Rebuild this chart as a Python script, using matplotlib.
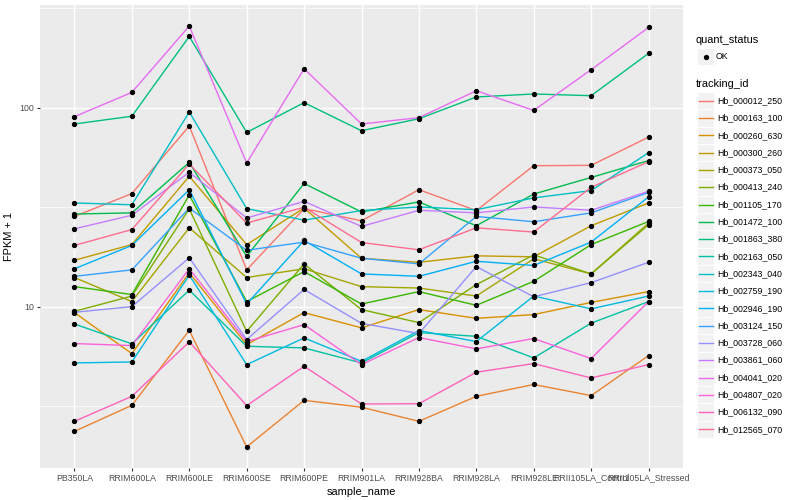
import numpy as np
import matplotlib
matplotlib.use("Agg")
import matplotlib.pyplot as plt
from matplotlib.patches import Rectangle
from matplotlib.lines import Line2D
from matplotlib.ticker import NullFormatter

plt.rcParams['font.family'] = ['Liberation Sans', 'DejaVu Sans']

# Data (FPKM + 1)

samples = ["PB350LA", "RRIM600LA", "RRIM600LE", "RRIM600SE", "RRIM600PE", "RRIM901LA",
           "RRIM928BA", "RRIM928LA", "RRIM928LE", "RRII105LA_Control", "RRII105LA_Stressed"]

tracking_ids = ["Hb_000012_250", "Hb_000163_100", "Hb_000260_630", "Hb_000300_260",
                "Hb_000373_050", "Hb_000413_240", "Hb_001105_170", "Hb_001472_100",
                "Hb_001863_380", "Hb_002163_050", "Hb_002343_040", "Hb_002759_190",
                "Hb_002946_190", "Hb_003124_150", "Hb_003728_060", "Hb_003861_060",
                "Hb_004041_020", "Hb_004807_020", "Hb_006132_090", "Hb_012565_070"]

# ggplot hue palette for 20 levels
colors = ["#F8766D", "#EA8331", "#D89000", "#C09B00", "#A3A500", "#7CAE00", "#39B600",
          "#00BB4E", "#00BF7D", "#00C1A3", "#00BFC4", "#00BAE0", "#00B0F6", "#35A2FF",
          "#9590FF", "#C77CFF", "#E76BF3", "#FA62DB", "#FF62BC", "#FF6C91"]

hb_000012_250 = [28.4, 37.0, 80.9, 15.3, 31.1, 27.0, 38.7, 30.4, 51.1, 51.3, 71.1]
hb_000163_100 = [2.36, 3.19, 7.60, 1.97, 3.38, 3.12, 2.65, 3.54, 4.06, 3.57, 5.67]
hb_000260_630 = [9.33, 5.80, 14.8, 6.44, 9.33, 7.82, 9.66, 8.73, 9.12, 10.5, 11.9]
hb_000300_260 = [17.1, 20.5, 45.2, 20.5, 31.3, 17.5, 16.7, 18.0, 17.8, 25.5, 33.2]
hb_000373_050 = [14.0, 10.6, 24.9, 14.0, 15.5, 12.6, 12.4, 11.3, 17.4, 14.6, 26.3]
hb_000413_240 = [9.47, 11.3, 31.0, 7.51, 16.4, 9.66, 8.31, 12.9, 18.2, 14.6, 25.8]
hb_001105_170 = [12.6, 11.5, 36.4, 10.6, 15.0, 10.3, 11.9, 10.15, 13.4, 20.5, 26.8]
hb_001472_100 = [29.2, 29.6, 53.1, 17.9, 41.6, 29.9, 33.6, 25.5, 36.8, 44.6, 54.2]
hb_001863_380 = [82.8, 90.6, 228.2, 75.1, 106.0, 76.6, 88.0, 113.2, 117.2, 114.9, 187.5]
hb_002163_050 = [8.17, 6.50, 12.1, 6.32, 6.20, 5.21, 7.40, 7.09, 5.52, 8.26, 10.6]
hb_002343_040 = [33.2, 32.5, 95.1, 31.1, 27.2, 30.4, 31.7, 30.7, 35.2, 38.3, 59.4]
hb_002759_190 = [5.21, 5.27, 14.4, 5.11, 6.96, 5.31, 7.58, 6.67, 11.3, 9.74, 11.3]
hb_002946_190 = [15.5, 20.3, 38.7, 10.3, 21.5, 14.6, 14.2, 16.9, 16.1, 21.1, 35.6]
hb_003124_150 = [14.2, 15.3, 31.3, 19.2, 21.1, 17.5, 16.4, 28.4, 26.7, 29.6, 37.5]
hb_003728_060 = [9.36, 10.0, 17.6, 6.83, 12.2, 8.24, 7.32, 15.9, 11.2, 13.2, 16.7]
hb_003861_060 = [24.6, 28.8, 47.4, 27.9, 33.8, 25.3, 30.5, 29.6, 31.7, 30.5, 38.0]
hb_004041_020 = [90.1, 119.4, 257.3, 52.7, 157.0, 82.8, 89.1, 121.7, 96.9, 155.2, 253.2]
hb_004807_020 = [6.52, 6.37, 15.5, 6.67, 8.12, 5.11, 6.99, 6.13, 6.91, 5.48, 10.6]
hb_006132_090 = [2.65, 3.54, 6.65, 3.18, 5.01, 3.24, 3.25, 4.68, 5.17, 4.38, 5.11]
hb_012565_070 = [20.3, 24.4, 52.1, 26.3, 31.6, 21.0, 19.3, 24.9, 23.7, 39.8, 53.5]

series = [hb_000012_250, hb_000163_100, hb_000260_630, hb_000300_260, hb_000373_050,
          hb_000413_240, hb_001105_170, hb_001472_100, hb_001863_380, hb_002163_050,
          hb_002343_040, hb_002759_190, hb_002946_190, hb_003124_150, hb_003728_060,
          hb_003861_060, hb_004041_020, hb_004807_020, hb_006132_090, hb_012565_070]

# Figure

W, H = 800, 500
fig = plt.figure(figsize=(8, 5), dpi=100)
fig.patch.set_facecolor("white")

def px(x, y):
    # pixel coords (from top-left) -> figure fraction
    return x / W, 1 - y / H

ax = fig.add_axes([40 / W, 32 / H, 643 / W, 463 / H])
ax.set_facecolor("#EBEBEB")

x = np.arange(len(samples))
for vals, col in zip(series, colors):
    ax.plot(x, vals, color=col, lw=1.0, zorder=3)
for vals in series:
    ax.plot(x, vals, ls="none", marker="o", ms=2.8, color="black", zorder=4)

ax.set_yscale("log")
allv = np.concatenate([np.array(s) for s in series])
lo, hi = np.log10(allv.min()), np.log10(allv.max())
span = hi - lo
ax.set_ylim(10 ** (lo - 0.05 * span), 10 ** (hi + 0.05 * span))
ax.set_xlim(-0.6, len(samples) - 0.4)

ax.set_yticks([10, 100])
ax.set_yticklabels(["10", "100"])
ax.set_yticks([10 ** 0.5, 10 ** 1.5, 10 ** 2.5], minor=True)
ax.yaxis.set_minor_formatter(NullFormatter())
ax.set_xticks(x)
ax.set_xticklabels(samples)

ax.grid(True, which="major", color="white", lw=1.0, zorder=0)
ax.grid(True, which="minor", axis="y", color="white", lw=0.5, zorder=0)
ax.set_axisbelow(True)
for s in ax.spines.values():
    s.set_visible(False)

ax.tick_params(which="major", length=2, width=0.8, color="#333333",
               labelcolor="#4D4D4D", labelsize=6.3, pad=2)
ax.tick_params(which="minor", length=0)

ax.set_xlabel("sample_name", fontsize=7.9, labelpad=3)
ax.set_ylabel("FPKM + 1", fontsize=7.9, labelpad=4)

# Legends (drawn by hand, ggplot style)

key_w, key_h = 17, 17.3
kx = 697

fig.text(*px(696, 40), "quant_status", fontsize=7.9, va="center", ha="left")
y0 = 56.7
bx, by = px(kx, y0 + key_h / 2)
fig.patches.append(Rectangle((bx, by), key_w / W, key_h / H, transform=fig.transFigure,
                             facecolor="#F2F2F2", edgecolor="white", lw=0.7))
fig.lines.append(Line2D([px(kx + key_w / 2, 0)[0]], [px(0, y0)[1]], transform=fig.transFigure,
                        marker="o", ms=2.8, color="black", ls="none"))
fig.text(*px(716, y0), "OK", fontsize=6.3, va="center", ha="left")

fig.text(*px(696, 84), "tracking_id", fontsize=7.9, va="center", ha="left")
for i, (tid, col) in enumerate(zip(tracking_ids, colors)):
    yc = 100.7 + i * key_h
    bx, by = px(kx, yc + key_h / 2)
    fig.patches.append(Rectangle((bx, by), key_w / W, key_h / H, transform=fig.transFigure,
                                 facecolor="#F2F2F2", edgecolor="white", lw=0.7))
    fig.lines.append(Line2D([px(kx + 1.5, 0)[0], px(kx + key_w - 1.5, 0)[0]],
                            [px(0, yc)[1]] * 2, transform=fig.transFigure,
                            color=col, lw=1.0))
    fig.text(*px(717, yc), tid, fontsize=6.3, va="center", ha="left")

fig.savefig("out.png", dpi=100)
